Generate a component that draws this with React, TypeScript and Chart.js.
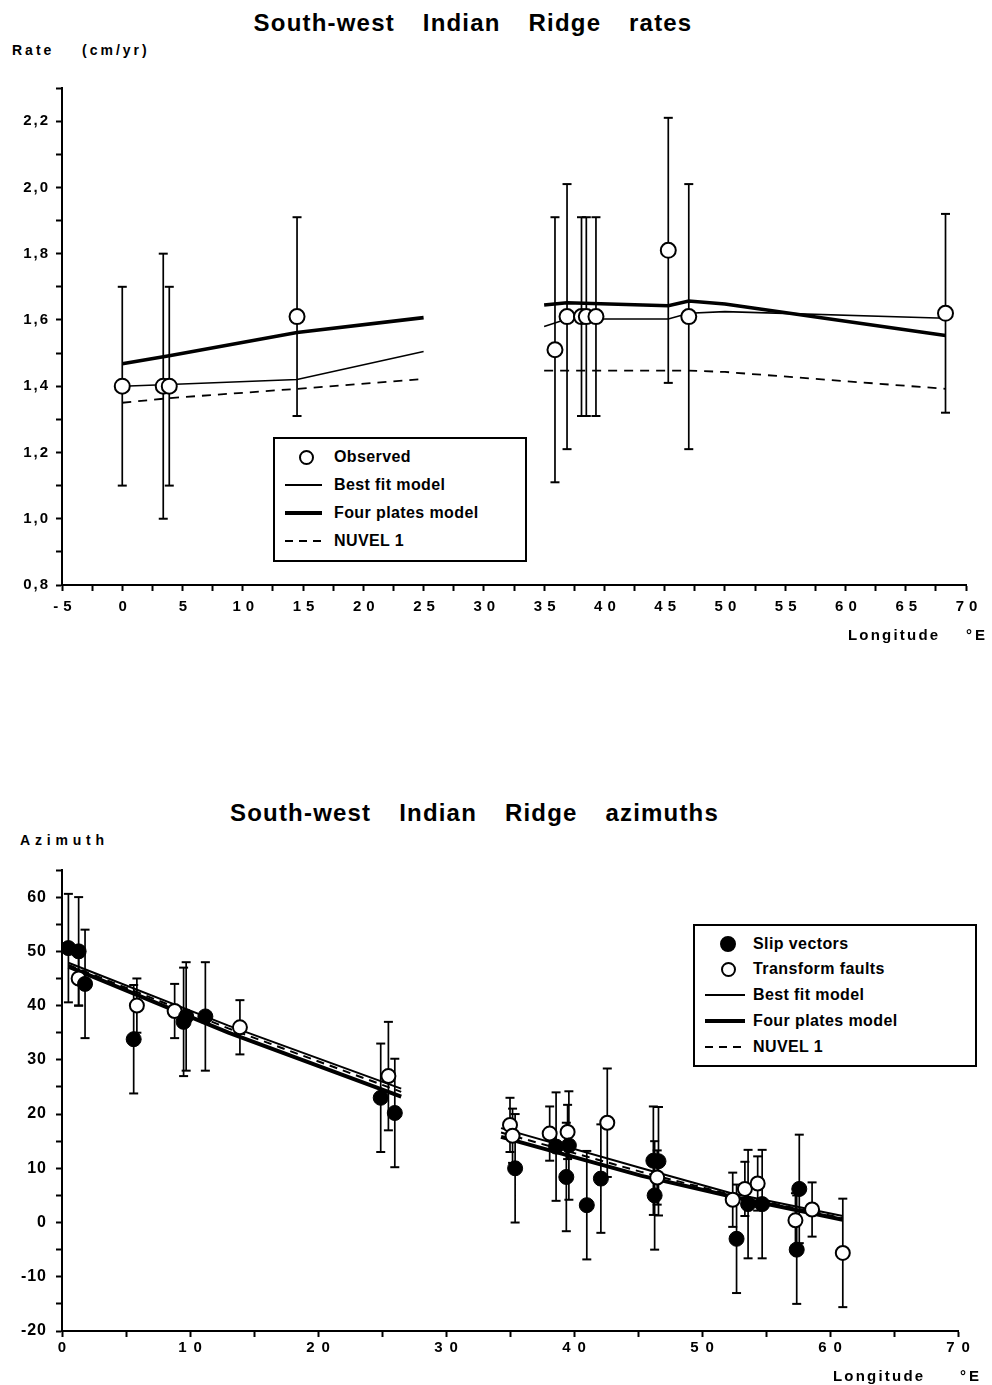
import React, { useEffect, useRef } from "react";
import { Chart, registerables } from "chart.js";
Chart.register(...registerables);

const FONT = "'Liberation Sans', Arial, Helvetica, sans-serif";

// ---------------- Rates panel (cm/yr) ----------------
const rateObsLon = [0, 3.4, 3.9, 14.5, 35.9, 36.9, 38.1, 38.5, 39.3, 45.3, 47.0, 68.3];
const rateObsVal = [1.40, 1.40, 1.40, 1.61, 1.51, 1.61, 1.61, 1.61, 1.61, 1.81, 1.61, 1.62];
const rateObsErr = [0.30, 0.40, 0.30, 0.30, 0.40, 0.40, 0.30, 0.30, 0.30, 0.40, 0.40, 0.30];

const rateWestLon = [0, 3.9, 14.5, 25];
const rateBestFitWest = [1.40, 1.405, 1.42, 1.505];
const rateFourPlatesWest = [1.468, 1.492, 1.562, 1.607];
const rateNuvelWest = [1.35, 1.364, 1.392, 1.422];

const rateEastLon = [35, 36.9, 45.3, 47.0, 50, 68.3];
const rateBestFitEast = [1.58, 1.603, 1.603, 1.62, 1.625, 1.605];
const rateFourPlatesEast = [1.645, 1.652, 1.643, 1.657, 1.648, 1.553];
const rateNuvelEast = [1.447, 1.447, 1.447, 1.447, 1.443, 1.392];

// ---------------- Azimuths panel (degrees) ----------------
const slipLon = [0.5, 1.3, 1.8, 5.6, 9.5, 9.7, 11.2, 24.9, 26.0, 35.4, 38.6, 39.6, 39.4, 41.0, 42.1, 46.2, 46.6, 46.3, 52.7, 53.6, 54.7, 57.6, 57.4];
const slipAz = [50.6, 50.0, 44.0, 33.8, 37.0, 38.0, 38.0, 23.0, 20.2, 10.0, 14.0, 14.2, 8.4, 3.2, 8.1, 11.4, 11.3, 5.0, -3.0, 3.4, 3.4, 6.2, -5.0];
const slipErr = [10, 10, 10, 10, 10, 10, 10, 10, 10, 10, 10, 10, 10, 10, 10, 10, 10, 10, 10, 10, 10, 10, 10];

const tfLon = [1.3, 5.85, 8.8, 13.9, 25.5, 35.0, 35.2, 38.1, 39.5, 42.6, 46.5, 52.4, 53.35, 54.35, 57.3, 58.6, 61.0];
const tfAz = [45.0, 40.0, 39.0, 36.0, 27.0, 18.0, 16.0, 16.4, 16.7, 18.4, 8.3, 4.2, 6.2, 7.2, 0.4, 2.4, -5.6];
const tfErr = [5, 5, 5, 5, 10, 5, 5, 5, 5, 10, 5, 5, 5, 5, 5, 5, 10];

const azWestLon = [0.5, 13, 26.5];
const azBestFitWest = [47.9, 36.3, 24.7];
const azNuvelWest = [47.5, 35.8, 24.1];
const azFourPlatesWest = [47.2, 35.0, 23.2];

const azEastLon = [34.3, 45.3, 52.3, 61.0];
const azBestFitEast = [17.4, 10.0, 5.4, 1.2];
const azNuvelEast = [16.6, 9.3, 5.1, 0.8];
const azFourPlatesEast = [15.8, 8.6, 4.8, 0.5];

// ---------------- helpers ----------------
type Pt = { x: number; y: number | null };
const pts = (xs: number[], ys: number[]): Pt[] => xs.map((x, i) => ({ x, y: ys[i] }));
const gapped = (xa: number[], ya: number[], xb: number[], yb: number[]): Pt[] => [
  ...pts(xa, ya),
  { x: (xa[xa.length - 1] + xb[0]) / 2, y: null },
  ...pts(xb, yb),
];
const errBars = (xs: number[], ys: number[], es: number[]): Pt[] => {
  const out: Pt[] = [];
  xs.forEach((x, i) => {
    out.push({ x, y: ys[i] - es[i] }, { x, y: ys[i] + es[i] }, { x, y: null });
  });
  return out;
};

const spacingPlugin = (ySp: string, xSp: string) => ({
  id: "tickSpacing",
  beforeDraw(chart: any) {
    chart.ctx.letterSpacing = ySp;
  },
  afterDatasetsDraw(chart: any) {
    chart.ctx.letterSpacing = xSp;
  },
  afterDraw(chart: any) {
    chart.ctx.letterSpacing = "0px";
  },
});

const gridOpts = {
  drawOnChartArea: false,
  drawTicks: true,
  tickLength: 6,
  tickColor: "#000",
  tickWidth: 2,
  color: "#000",
};

function scales(o: any) {
  return {
    x: {
      type: "linear",
      min: o.xmin,
      max: o.xmax,
      grid: gridOpts,
      border: { display: true, color: "#000", width: 2 },
      ticks: {
        stepSize: o.xstep,
        autoSkip: false,
        maxRotation: 0,
        minRotation: 0,
        font: { family: FONT, size: 15, weight: "bold" },
        color: "#000",
        padding: o.xpad,
        labelOffset: o.xoff,
        z: 1,
        callback: (v: any) => o.xlabel(Number(v)),
      },
      afterFit: (s: any) => {
        s.height = o.xh;
      },
    },
    y: {
      type: "linear",
      min: o.ymin,
      max: o.ymax,
      grid: gridOpts,
      border: { display: true, color: "#000", width: 2 },
      ticks: {
        stepSize: o.ystep,
        autoSkip: false,
        font: { family: FONT, size: o.ysize, weight: "bold" },
        color: "#000",
        padding: o.ypad,
        callback: (v: any) => o.ylabel(Number(v)),
      },
      afterFit: (s: any) => {
        s.width = o.yw;
      },
    },
  };
}

const lineDs = (label: string, data: Pt[], width: number, dash: number[] = []) => ({
  label,
  data,
  showLine: true,
  borderColor: "#000",
  borderWidth: width,
  borderDash: dash,
  pointRadius: 0,
  pointHoverRadius: 0,
  spanGaps: false,
  order: 2,
});

const errDs = (label: string, data: Pt[], order: number) => ({
  label,
  data,
  showLine: true,
  borderColor: "#000",
  borderWidth: 1.7,
  spanGaps: false,
  pointStyle: "line",
  pointRadius: 4.5,
  pointHoverRadius: 4.5,
  pointBorderColor: "#000",
  pointBorderWidth: 2,
  order,
});

function rateConfig(): any {
  return {
    type: "scatter",
    data: {
      datasets: [
        {
          label: "Observed",
          data: pts(rateObsLon, rateObsVal),
          pointStyle: "circle",
          pointRadius: 7.5,
          pointHoverRadius: 7.5,
          pointBackgroundColor: "#fff",
          pointBorderColor: "#000",
          pointBorderWidth: 2,
          order: 0,
        },
        lineDs("Best fit model", gapped(rateWestLon, rateBestFitWest, rateEastLon, rateBestFitEast), 1.6),
        lineDs("Four plates model", gapped(rateWestLon, rateFourPlatesWest, rateEastLon, rateFourPlatesEast), 3.6),
        lineDs("NUVEL 1", gapped(rateWestLon, rateNuvelWest, rateEastLon, rateNuvelEast), 1.8, [9, 7]),
        errDs("Observed error", errBars(rateObsLon, rateObsVal, rateObsErr), 3),
      ],
    },
    options: {
      animation: false,
      responsive: false,
      maintainAspectRatio: false,
      devicePixelRatio: 1,
      layout: { padding: { left: 0, right: 26, top: 28, bottom: 0 } },
      plugins: { legend: { display: false }, tooltip: { enabled: false } },
      scales: scales({
        xmin: -5,
        xmax: 70,
        xstep: 2.5,
        xpad: 7,
        xoff: 3,
        xh: 95,
        xlabel: (v: number) => (Math.abs(v % 5) < 1e-9 ? String(v) : ""),
        ymin: 0.8,
        ymax: 2.3,
        ystep: 0.1,
        ysize: 15,
        ypad: 6,
        yw: 62,
        ylabel: (v: number) => (Math.round(v * 10) % 2 === 0 ? v.toFixed(1).replace(".", ",") : ""),
      }),
    },
    plugins: [spacingPlugin("2px", "5px")],
  };
}

function azConfig(): any {
  return {
    type: "scatter",
    data: {
      datasets: [
        {
          label: "Slip vectors",
          data: pts(slipLon, slipAz),
          pointStyle: "circle",
          pointRadius: 7.5,
          pointHoverRadius: 7.5,
          pointBackgroundColor: "#000",
          pointBorderColor: "#000",
          pointBorderWidth: 1,
          order: 0,
        },
        {
          label: "Transform faults",
          data: pts(tfLon, tfAz),
          pointStyle: "circle",
          pointRadius: 7,
          pointHoverRadius: 7,
          pointBackgroundColor: "#fff",
          pointBorderColor: "#000",
          pointBorderWidth: 2,
          order: 1,
        },
        lineDs("Best fit model", gapped(azWestLon, azBestFitWest, azEastLon, azBestFitEast), 2),
        lineDs("Four plates model", gapped(azWestLon, azFourPlatesWest, azEastLon, azFourPlatesEast), 4),
        lineDs("NUVEL 1", gapped(azWestLon, azNuvelWest, azEastLon, azNuvelEast), 2, [8, 6]),
        errDs("Slip error", errBars(slipLon, slipAz, slipErr), 3),
        errDs("Transform error", errBars(tfLon, tfAz, tfErr), 3),
      ],
    },
    options: {
      animation: false,
      responsive: false,
      maintainAspectRatio: false,
      devicePixelRatio: 1,
      layout: { padding: { left: 0, right: 34, top: 20, bottom: 0 } },
      plugins: { legend: { display: false }, tooltip: { enabled: false } },
      scales: scales({
        xmin: 0,
        xmax: 70,
        xstep: 5,
        xpad: 2,
        xoff: 3.5,
        xh: 54,
        xlabel: (v: number) => (Math.abs(v % 10) < 1e-9 ? String(v) : ""),
        ymin: -20,
        ymax: 65,
        ystep: 5,
        ysize: 16,
        ypad: 9,
        yw: 62,
        ylabel: (v: number) => (Math.abs(v % 10) < 1e-9 ? String(v) : ""),
      }),
    },
    plugins: [spacingPlugin("1px", "7px")],
  };
}

function ChartCanvas({ top, height, build }: { top: number; height: number; build: () => any }) {
  const ref = useRef<HTMLCanvasElement>(null);
  useEffect(() => {
    const chart = new Chart(ref.current as HTMLCanvasElement, build());
    return () => chart.destroy();
  }, []);
  return (
    <canvas
      ref={ref}
      width={992}
      height={height}
      style={{ position: "absolute", left: 0, top, width: 992, height, display: "block" }}
    />
  );
}

type SampleKind = "open" | "filled" | "thin" | "thick" | "dashed";

function Sample({ kind, cx, lineX, lineW, cy }: { kind: SampleKind; cx: number; lineX: number; lineW: number; cy: number }) {
  if (kind === "open" || kind === "filled") {
    const d = kind === "open" ? 15 : 16;
    return (
      <div
        style={{
          position: "absolute",
          left: cx - d / 2,
          top: cy - d / 2,
          width: d,
          height: d,
          boxSizing: "border-box",
          borderRadius: "50%",
          border: "2px solid #000",
          background: kind === "open" ? "#fff" : "#000",
        }}
      />
    );
  }
  const h = kind === "thin" ? 1.6 : kind === "thick" ? 4 : 2;
  return (
    <div
      style={{
        position: "absolute",
        left: lineX,
        top: cy - h / 2,
        width: lineW,
        height: h,
        background:
          kind === "dashed"
            ? "repeating-linear-gradient(to right, #000 0px, #000 8px, transparent 8px, transparent 14px)"
            : "#000",
      }}
    />
  );
}

function Legend({
  left,
  top,
  width,
  height,
  rows,
  rowCenters,
  cx,
  lineX,
  lineW,
  textX,
}: {
  left: number;
  top: number;
  width: number;
  height: number;
  rows: { kind: SampleKind; text: string }[];
  rowCenters: number[];
  cx: number;
  lineX: number;
  lineW: number;
  textX: number;
}) {
  return (
    <div
      style={{
        position: "absolute",
        left,
        top,
        width,
        height,
        boxSizing: "border-box",
        border: "2px solid #000",
        background: "#fff",
      }}
    >
      {rows.map((r, i) => (
        <React.Fragment key={i}>
          <Sample kind={r.kind} cx={cx - 2} lineX={lineX - 2} lineW={lineW} cy={rowCenters[i] - 2} />
          <div
            style={{
              position: "absolute",
              left: textX - 2,
              top: rowCenters[i] - 2 - 10,
              height: 20,
              lineHeight: "20px",
              fontFamily: FONT,
              fontWeight: "bold",
              fontSize: 16,
              letterSpacing: "0.4px",
              whiteSpace: "nowrap",
              color: "#000",
            }}
          >
            {r.text}
          </div>
        </React.Fragment>
      ))}
    </div>
  );
}

const txt = (extra: React.CSSProperties): React.CSSProperties => ({
  position: "absolute",
  fontFamily: FONT,
  fontWeight: "bold",
  color: "#000",
  whiteSpace: "nowrap",
  lineHeight: 1,
  ...extra,
});

export default function App() {
  return (
    <div
      style={{
        position: "absolute",
        left: 0,
        top: 0,
        width: 992,
        height: 1385,
        overflow: "hidden",
        background: "#fff",
      }}
    >
      <ChartCanvas top={60} height={620} build={rateConfig} />
      <ChartCanvas top={850} height={535} build={azConfig} />

      <div
        style={txt({
          left: 0,
          width: 946,
          top: 11,
          fontSize: 24,
          letterSpacing: "1.2px",
          wordSpacing: "20px",
          textAlign: "center",
        })}
      >
        South-west Indian Ridge rates
      </div>
      <div style={txt({ left: 12, top: 43, fontSize: 14, letterSpacing: "3px" })}>Rate</div>
      <div style={txt({ left: 82, top: 43, fontSize: 14, letterSpacing: "3px" })}>(cm/yr)</div>
      <div style={txt({ left: 848, top: 627, fontSize: 15, letterSpacing: "2.2px" })}>Longitude</div>
      <div style={txt({ left: 966, top: 627, fontSize: 15, letterSpacing: "3px" })}>°E</div>

      <div
        style={txt({
          left: 0,
          width: 949,
          top: 801,
          fontSize: 24,
          letterSpacing: "1.2px",
          wordSpacing: "20px",
          textAlign: "center",
        })}
      >
        South-west Indian Ridge azimuths
      </div>
      <div style={txt({ left: 20, top: 833, fontSize: 14, letterSpacing: "4.8px" })}>Azimuth</div>
      <div style={txt({ left: 833, top: 1368, fontSize: 15, letterSpacing: "2.2px" })}>Longitude</div>
      <div style={txt({ left: 960, top: 1368, fontSize: 15, letterSpacing: "3px" })}>°E</div>

      <Legend
        left={273}
        top={437}
        width={254}
        height={125}
        rows={[
          { kind: "open", text: "Observed" },
          { kind: "thin", text: "Best fit model" },
          { kind: "thick", text: "Four plates model" },
          { kind: "dashed", text: "NUVEL 1" },
        ]}
        rowCenters={[20, 48, 76, 104]}
        cx={33}
        lineX={12}
        lineW={37}
        textX={61}
      />
      <Legend
        left={693}
        top={924}
        width={284}
        height={143}
        rows={[
          { kind: "filled", text: "Slip vectors" },
          { kind: "open", text: "Transform faults" },
          { kind: "thin", text: "Best fit model" },
          { kind: "thick", text: "Four plates model" },
          { kind: "dashed", text: "NUVEL 1" },
        ]}
        rowCenters={[20, 45, 71, 97, 123]}
        cx={35}
        lineX={12}
        lineW={40}
        textX={60}
      />
    </div>
  );
}
